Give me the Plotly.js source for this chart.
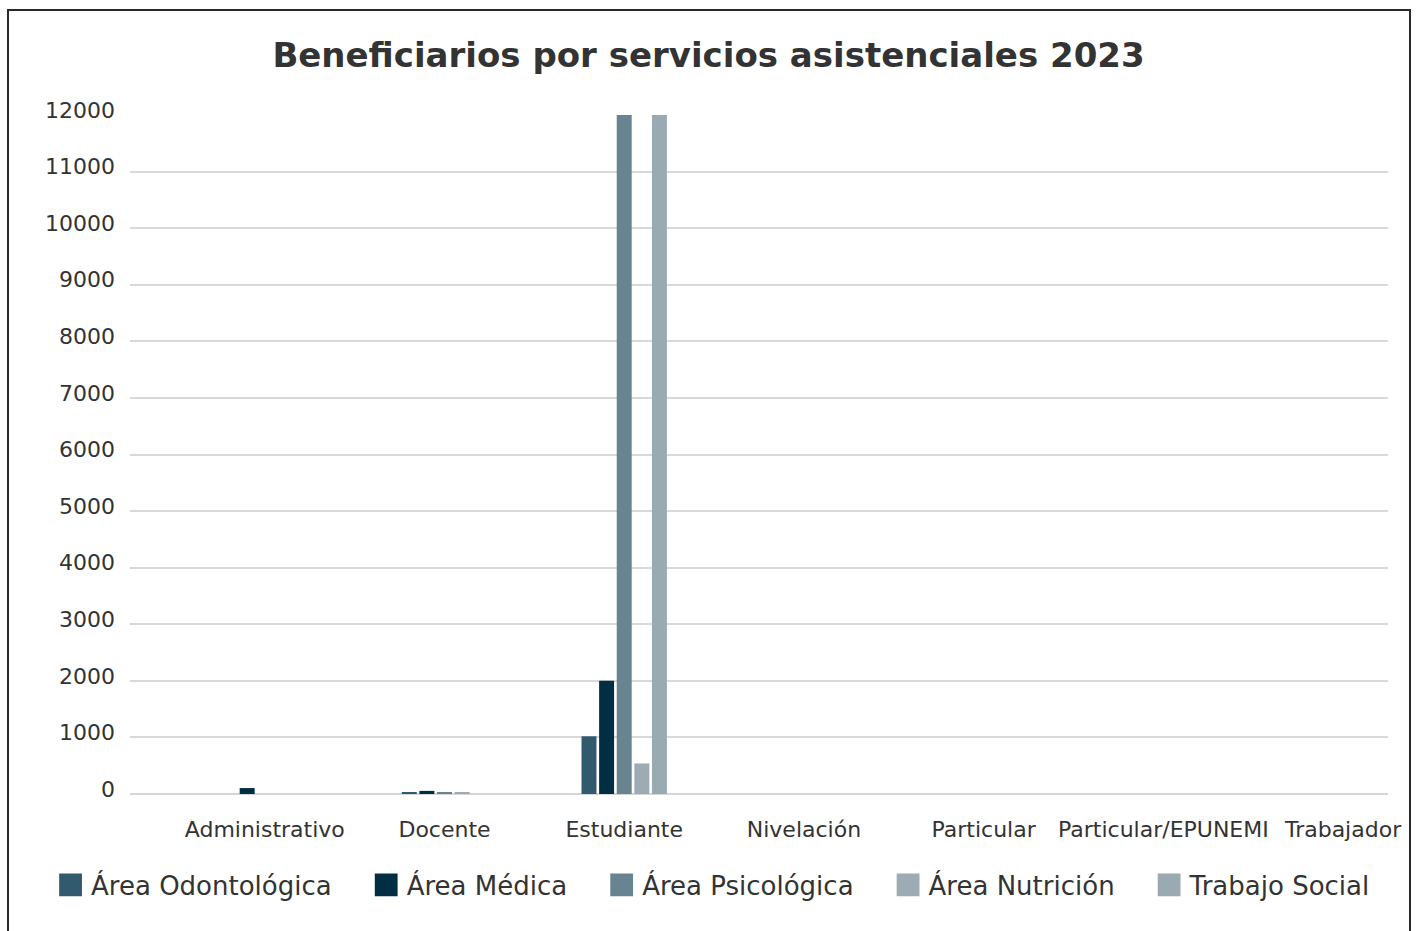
<!DOCTYPE html>
<html>
<head>
<meta charset="utf-8">
<script src="https://cdn.plot.ly/plotly-3.0.1.min.js"></script>
<style>
  html, body { margin: 0; padding: 0; background: #ffffff; overflow: hidden; }
  #frame { position: absolute; left: 7px; top: 9px; width: 1404px; height: 940px; border: 2px solid #2a2a2a; box-sizing: border-box; }
  #chart { position: absolute; left: 0; top: 0; width: 1417px; height: 931px; }
</style>
</head>
<body>
<div id="frame"></div>
<div id="chart"></div>
<script>
// Data
const categories = ["Administrativo", "Docente", "Estudiante", "Nivelación", "Particular", "Particular/EPUNEMI", "Trabajador"];
const seriesNames = ["Área Odontológica", "Área Médica", "Área Psicológica", "Área Nutrición", "Trabajo Social"];
const odontologica = [0, 35, 1020, 0, 0, 0, 0];
const medica       = [105, 55, 2000, 0, 0, 0, 0];
const psicologica  = [0, 35, 13800, 0, 0, 0, 0];
const nutricion    = [0, 35, 540, 0, 0, 0, 0];
const trabajoSocial= [0, 0, 13200, 0, 0, 0, 0];
const yTicks = [0, 1000, 2000, 3000, 4000, 5000, 6000, 7000, 8000, 9000, 10000, 11000, 12000];

const seriesValues = [odontologica, medica, psicologica, nutricion, trabajoSocial];
const colors = ["#325a6e", "#022e44", "#678490", "#9dacb4", "#9aaab3"];
const FONT = "DejaVu Sans, sans-serif";
const LEGEND_ITEM_W = 60;

const traces = seriesNames.map((name, i) => ({
  type: "bar",
  name: name,
  x: categories,
  y: seriesValues[i],
  marker: { color: colors[i], line: { width: 0 } },
  hoverinfo: "x+y+name"
}));

const layout = {
  width: 1417,
  height: 931,
  paper_bgcolor: "rgba(0,0,0,0)",
  plot_bgcolor: "#ffffff",
  margin: { l: 130, r: 29, t: 115, b: 137 },
  title: {
    text: "Beneficiarios por servicios asistenciales 2023",
    font: { family: FONT, size: 34, color: "#333333", weight: 700 },
    x: 0.5, xanchor: "center", xref: "container",
    y: 0.941, yanchor: "middle", yref: "container"
  },
  barmode: "group",
  bargap: 0.51,
  bargroupgap: 0.15,
  xaxis: {
    type: "category",
    range: [-0.75, 6.25],
    tickangle: 0,
    showgrid: false,
    showline: false,
    zeroline: false,
    ticks: "",
    ticklabelstandoff: 20,
    tickfont: { family: FONT, size: 22, color: "#333333" },
    fixedrange: true
  },
  yaxis: {
    range: [0, 12000],
    tickvals: yTicks,
    ticktext: yTicks.map(String),
    showgrid: true,
    gridcolor: "#d9d9d9",
    gridwidth: 2,
    zeroline: true,
    zerolinecolor: "#d6d6d6",
    zerolinewidth: 2,
    showline: false,
    ticks: "",
    ticklabelstandoff: 14,
    ticklabelshift: -5,
    tickfont: { family: FONT, size: 22, color: "#333333" },
    fixedrange: true
  },
  showlegend: true,
  legend: {
    orientation: "h",
    x: -0.0866, xanchor: "left",
    y: -0.134, yanchor: "middle",
    font: { family: FONT, size: 26, color: "#333333" },
    itemwidth: LEGEND_ITEM_W,
    traceorder: "normal",
    bgcolor: "rgba(0,0,0,0)"
  },
  font: { family: FONT, color: "#333333" }
};

Plotly.newPlot("chart", traces, layout, { displayModeBar: false }).then(gd => {
  // enlarge legend swatches and place them just left of their label
  const cx = LEGEND_ITEM_W - 22 + 11.5;
  gd.querySelectorAll(".legend .legendpoints path").forEach(p => {
    p.setAttribute("transform", "translate(" + cx + ",0) scale(1.9)");
  });
});
</script>
</body>
</html>
